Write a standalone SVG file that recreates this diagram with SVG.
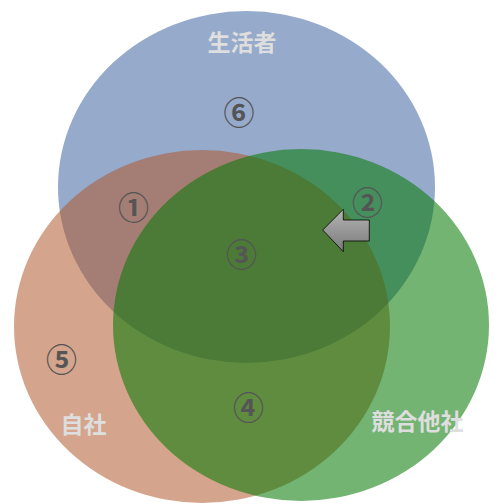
<svg xmlns="http://www.w3.org/2000/svg" width="500" height="504" viewBox="0 0 500 504">
<defs>
<style>
.lbl{font-family:"Noto Sans CJK JP","Noto Sans CJK SC",sans-serif;font-weight:bold;font-size:23px;fill:#dedede;text-anchor:middle}
.num{font-family:"Noto Sans CJK JP","Noto Sans CJK SC",sans-serif;font-weight:bold;font-size:31px;fill:#555555;text-anchor:middle;dominant-baseline:central}
</style>
<linearGradient id="ag" x1="0" y1="0" x2="0" y2="1">
<stop offset="0" stop-color="#b4b4b4"/>
<stop offset="1" stop-color="#7a7a7a"/>
</linearGradient>
</defs>
<rect width="500" height="504" fill="#ffffff"/>
<g id="consumer">
<ellipse cx="246.5" cy="187" rx="188.5" ry="176" fill="#96aacb"/>
</g>
<g id="own">
<ellipse cx="202" cy="326.5" rx="188" ry="176.5" fill="#b0582a" fill-opacity="0.54"/>
</g>
<g id="competitor">
<ellipse cx="301" cy="325" rx="188" ry="176" fill="#067a06" fill-opacity="0.56"/>
</g>
<g id="connectors">
<path d="M322.7,230 L343.3,209.3 L343.3,220 L369.3,220 L369.3,241 L343.3,241 L343.3,251.7 Z" fill="url(#ag)" stroke="#000000" stroke-width="0.8"/>
</g>
<g id="labels">
<text class="lbl" x="242" y="51">生活者</text>
<text class="lbl" x="83.5" y="433">自社</text>
<text class="lbl" x="417.5" y="430">競合他社</text>
</g>
<g id="numbers">
<text class="num" x="239" y="110">⑥</text>
<text class="num" x="133.5" y="205">①</text>
<text class="num" x="367.5" y="200">②</text>
<text class="num" x="241.5" y="252">③</text>
<text class="num" x="248.5" y="405.5">④</text>
<text class="num" x="61.5" y="357.5">⑤</text>
</g>
</svg>
